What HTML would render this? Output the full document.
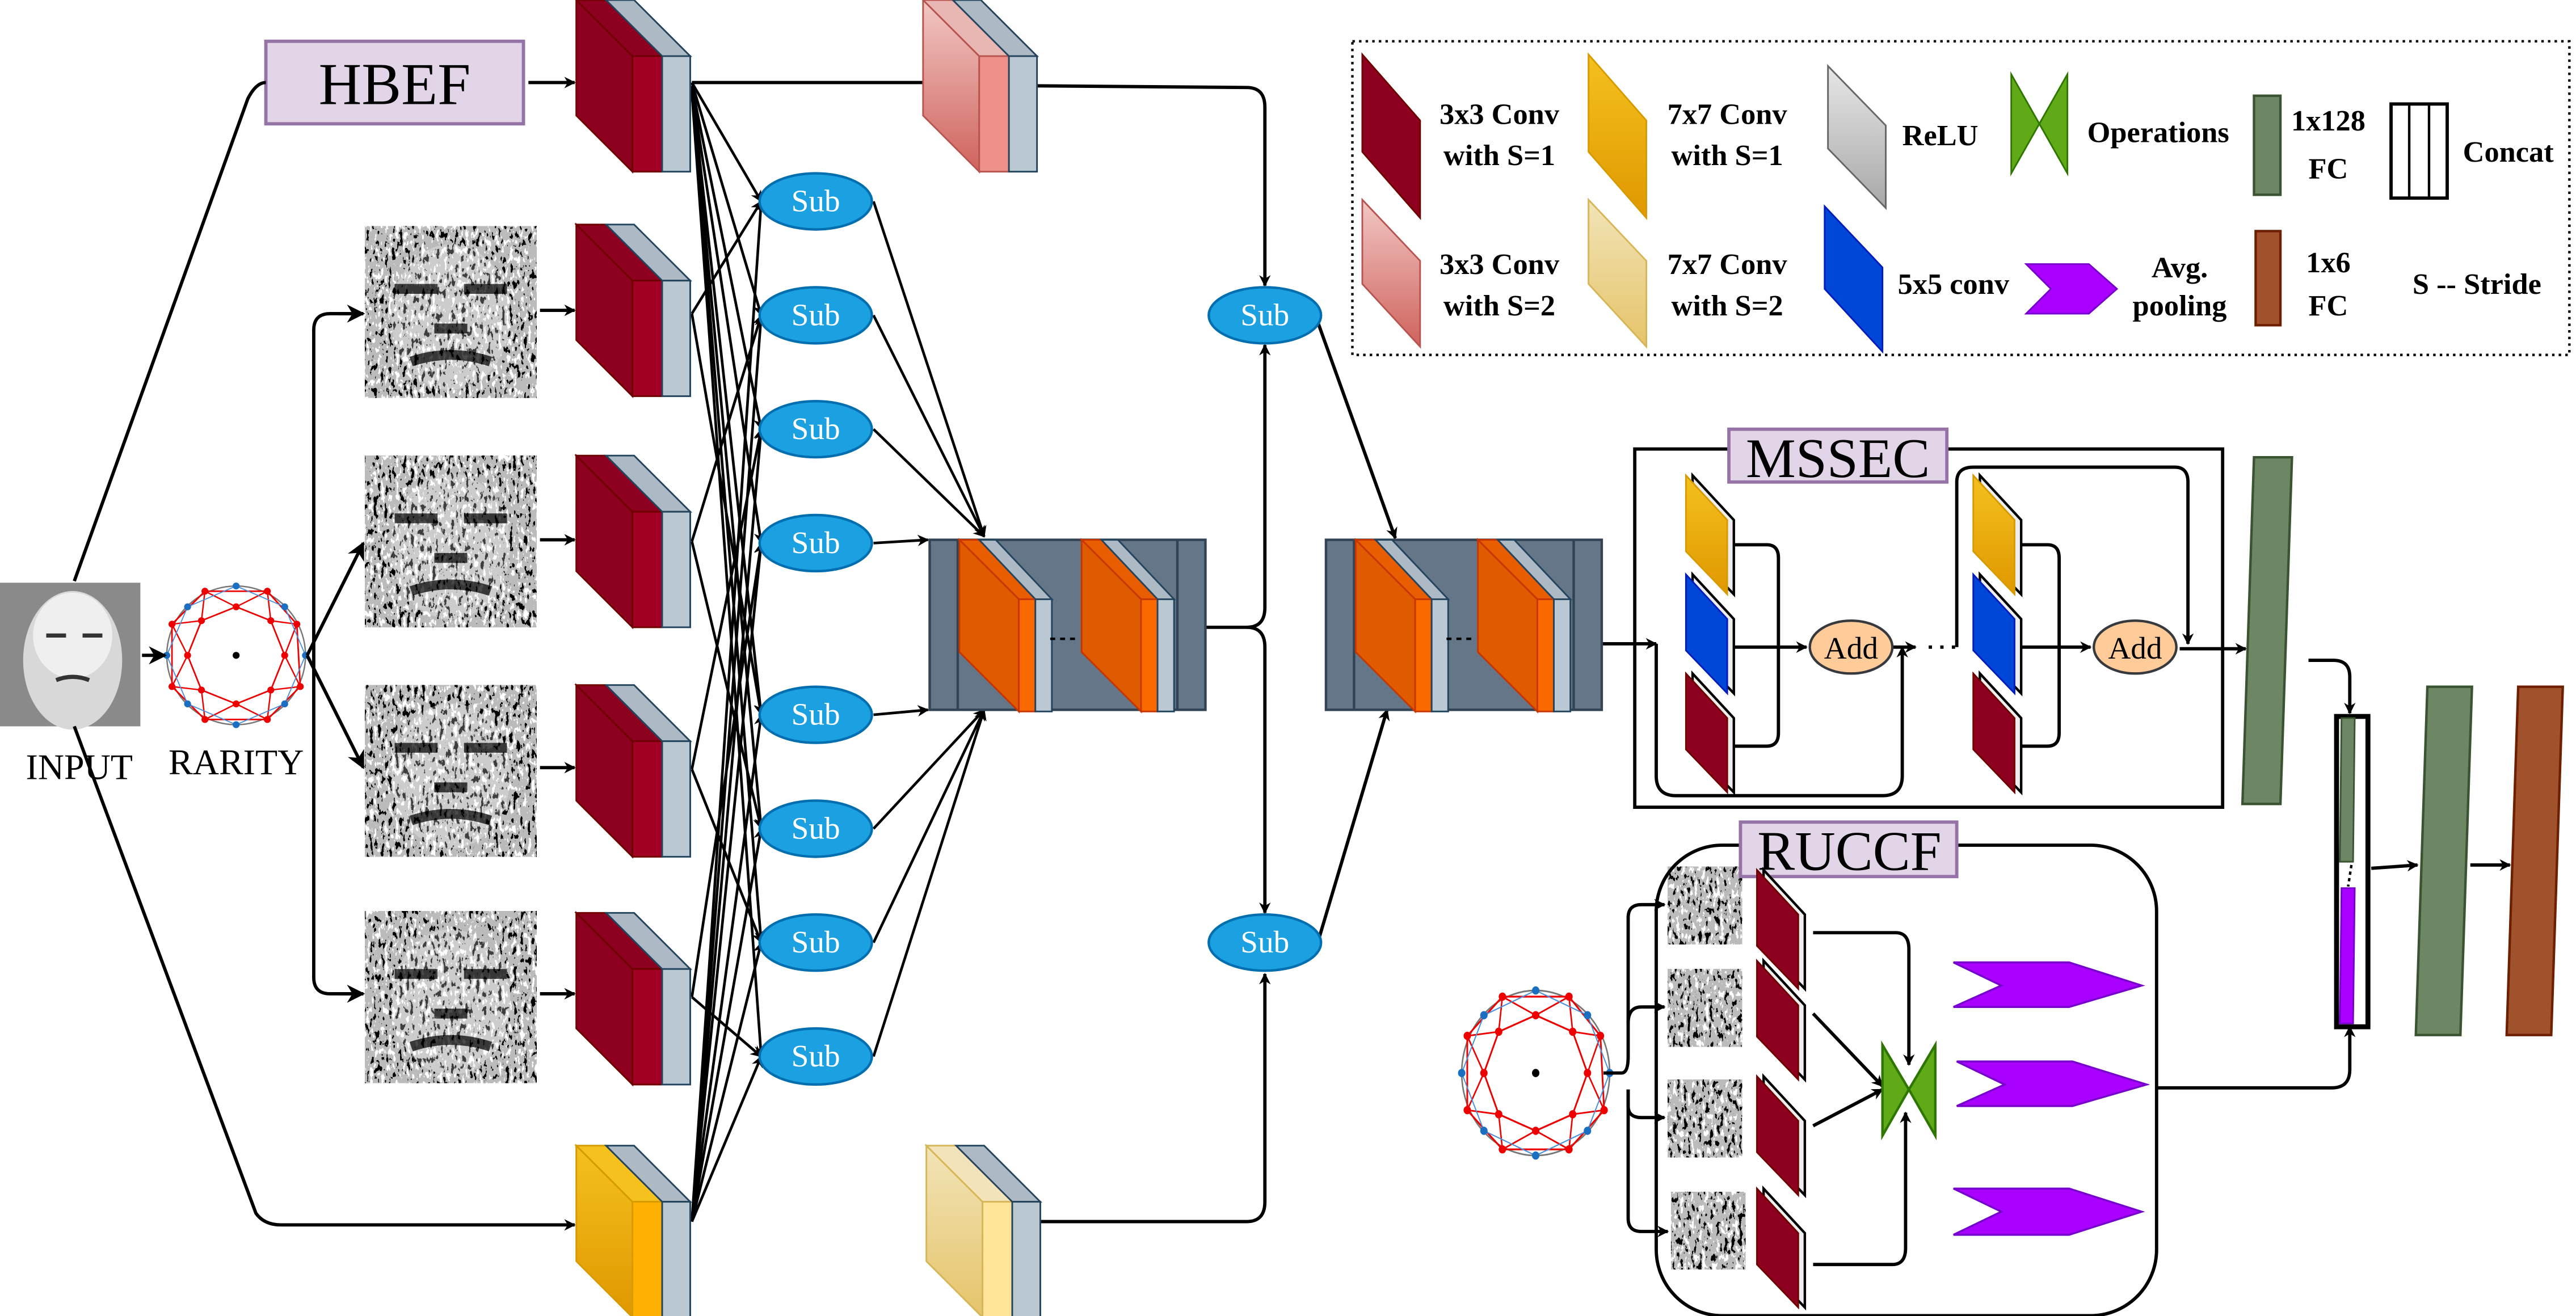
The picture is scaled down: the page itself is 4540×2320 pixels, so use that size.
<!DOCTYPE html>
<html><head><meta charset="utf-8"><style>
html,body{margin:0;padding:0;background:#fff;}
svg{display:block;}
text{font-family:"Liberation Serif",serif;}
</style></head><body>
<svg width="4540" height="2320" viewBox="0 0 1560 797.2" preserveAspectRatio="none" xmlns="http://www.w3.org/2000/svg" font-family="Liberation Serif, serif">
<defs>
<marker id="ar" viewBox="0 0 10 10" refX="9" refY="5" markerWidth="7" markerHeight="7" orient="auto-start-reverse" markerUnits="userSpaceOnUse"><path d="M0,0 L10,5 L0,10 L3,5 z" fill="#000"/></marker>
<marker id="ar2" viewBox="0 0 10 10" refX="9" refY="5" markerWidth="11" markerHeight="11" orient="auto" markerUnits="userSpaceOnUse"><path d="M0,0 L10,5 L0,10 L3,5 z" fill="#000"/></marker>
<filter id="nz" x="0" y="0" width="1" height="1" primitiveUnits="userSpaceOnUse">
<feTurbulence type="fractalNoise" baseFrequency="0.45 0.2" numOctaves="3" seed="5"/>
<feColorMatrix type="saturate" values="0"/>
<feComponentTransfer><feFuncR type="discrete" tableValues="0 0 0.5 1 1"/><feFuncG type="discrete" tableValues="0 0 0.5 1 1"/><feFuncB type="discrete" tableValues="0 0 0.5 1 1"/><feFuncA type="linear" slope="0" intercept="1"/></feComponentTransfer>
</filter>
<linearGradient id="pinkg" x1="0" y1="0" x2="0" y2="1"><stop offset="0" stop-color="#f1c7c4"/><stop offset="1" stop-color="#d0635d"/></linearGradient>
<linearGradient id="yelg" x1="0" y1="0" x2="0" y2="1"><stop offset="0" stop-color="#f4c11f"/><stop offset="1" stop-color="#e09800"/></linearGradient>
<linearGradient id="lyg" x1="0" y1="0" x2="0" y2="1"><stop offset="0" stop-color="#f2e4b8"/><stop offset="1" stop-color="#e5c46a"/></linearGradient>
<linearGradient id="grayg" x1="0" y1="0" x2="0" y2="1"><stop offset="0" stop-color="#e6e6e6"/><stop offset="1" stop-color="#a8a8a8"/></linearGradient>
<g id="redblk">
<polygon points="0,0 34,34 34,104 0,70" fill="#8e0020" stroke="#6f0000" stroke-width="1"/>
<polygon points="0,0 18,0 52,34 34,34" fill="#8e0020" stroke="#6f0000" stroke-width="1"/>
<rect x="34" y="34" width="18" height="70" fill="#a20025" stroke="#6f0000" stroke-width="1"/>
<polygon points="18,0 35,0 69,34 52,34" fill="#adb9c4" stroke="#23445d" stroke-width="1"/>
<rect x="52" y="34" width="17" height="70" fill="#bac8d3" stroke="#23445d" stroke-width="1"/>
</g>
<g id="pinkblk">
<polygon points="0,0 34,34 34,104 0,70" fill="url(#pinkg)" stroke="#b85450" stroke-width="1"/>
<polygon points="0,0 18,0 52,34 34,34" fill="#e8b7b4" stroke="#b85450" stroke-width="1"/>
<rect x="34" y="34" width="18" height="70" fill="#f0908a" stroke="#b85450" stroke-width="1"/>
<polygon points="18,0 35,0 69,34 52,34" fill="#adb9c4" stroke="#23445d" stroke-width="1"/>
<rect x="52" y="34" width="17" height="70" fill="#bac8d3" stroke="#23445d" stroke-width="1"/>
</g>
<g id="yelblk">
<polygon points="0,0 34,34 34,104 0,70" fill="url(#yelg)" stroke="#d79b00" stroke-width="1"/>
<polygon points="0,0 18,0 52,34 34,34" fill="#f4c11f" stroke="#d79b00" stroke-width="1"/>
<rect x="34" y="34" width="18" height="70" fill="#ffb000" stroke="#d79b00" stroke-width="1"/>
<polygon points="18,0 35,0 69,34 52,34" fill="#adb9c4" stroke="#23445d" stroke-width="1"/>
<rect x="52" y="34" width="17" height="70" fill="#bac8d3" stroke="#23445d" stroke-width="1"/>
</g>
<g id="lyblk">
<polygon points="0,0 34,34 34,104 0,70" fill="url(#lyg)" stroke="#d6b656" stroke-width="1"/>
<polygon points="0,0 18,0 52,34 34,34" fill="#f2e4b8" stroke="#d6b656" stroke-width="1"/>
<rect x="34" y="34" width="18" height="70" fill="#ffe599" stroke="#d6b656" stroke-width="1"/>
<polygon points="18,0 35,0 69,34 52,34" fill="#adb9c4" stroke="#23445d" stroke-width="1"/>
<rect x="52" y="34" width="17" height="70" fill="#bac8d3" stroke="#23445d" stroke-width="1"/>
</g>
<g id="orblk">
<polygon points="0,0 12,0 46,36 36,36" fill="#e85d00" stroke="#c73500" stroke-width="1"/>
<polygon points="12,0 22,0 56,36 46,36" fill="#adb9c4" stroke="#23445d" stroke-width="1"/>
<polygon points="0,0 36,36 36,104 0,68" fill="#e05a00" stroke="#c73500" stroke-width="1"/>
<rect x="36" y="36" width="10" height="68" fill="#fa6800" stroke="#c73500" stroke-width="1"/>
<rect x="46" y="36" width="10" height="68" fill="#bac8d3" stroke="#23445d" stroke-width="1"/>
</g>
<g id="para">
<polygon points="4,0 29,27 29,72 4,46" fill="#eee" stroke="#000" stroke-width="1.5"/>
<polygon points="0,0 25,27 25,72 0,46" stroke-width="1"/>
</g>
<g id="rar">
<ellipse cx="0" cy="0" rx="40" ry="40" fill="none" stroke="#777" stroke-width="0.8"/>
<polygon points="-18,-37 18,-37 35,-18 37,18 18,37 -18,37 -37,18 -37,-18" fill="none" stroke="#e00" stroke-width="0.9"/>
<polygon points="0,-28 20,-20 28,0 20,20 0,28 -20,20 -28,0 -20,-20" fill="none" stroke="#e00" stroke-width="0.9"/>
<polygon points="-18,-37 0,-28 18,-37 20,-20 35,-18 28,0 37,18 20,20 18,37 0,28 -18,37 -20,20 -37,18 -28,0 -37,-18 -20,-20" fill="none" stroke="#e00" stroke-width="0.8"/>
<polygon points="0,-40 28,-28 40,0 28,28 0,40 -28,28 -40,0 -28,-28" fill="none" stroke="#4a90d9" stroke-width="0.6"/>
<g fill="#e00"><circle cx="-18" cy="-37" r="2"/><circle cx="18" cy="-37" r="2"/><circle cx="35" cy="-18" r="2"/><circle cx="37" cy="18" r="2"/><circle cx="18" cy="37" r="2"/><circle cx="-18" cy="37" r="2"/><circle cx="-37" cy="18" r="2"/><circle cx="-37" cy="-18" r="2"/><circle cx="0" cy="-28" r="2"/><circle cx="20" cy="-20" r="2"/><circle cx="28" cy="0" r="2"/><circle cx="20" cy="20" r="2"/><circle cx="0" cy="28" r="2"/><circle cx="-20" cy="20" r="2"/><circle cx="-28" cy="0" r="2"/><circle cx="-20" cy="-20" r="2"/></g>
<g fill="#1a6fc2"><circle cx="0" cy="-40" r="2"/><circle cx="28" cy="-28" r="2"/><circle cx="40" cy="0" r="2"/><circle cx="28" cy="28" r="2"/><circle cx="0" cy="40" r="2"/><circle cx="-28" cy="28" r="2"/><circle cx="-40" cy="0" r="2"/><circle cx="-28" cy="-28" r="2"/></g>
<circle cx="0" cy="0" r="2" fill="#000"/>
</g>
<g id="face">
<ellipse cx="52" cy="55" rx="36" ry="44" fill="#fff" opacity="0.35"/>
<path d="M18,38 h26 M60,38 h26 M42,62 h20 M28,82 q24,-8 48,0" stroke="#000" stroke-width="6" fill="none"/>
</g>
</defs>

<!-- legend -->
<rect x="819" y="25" width="737" height="190" fill="none" stroke="#000" stroke-width="1.5" stroke-dasharray="1.5,2.5"/>
<polygon points="825,33 860,73 860,132 825,92" fill="#8e0020" stroke="#6f0000"/>
<polygon points="962,33 997,73 997,132 962,92" fill="url(#yelg)" stroke="#d79b00"/>
<polygon points="1107,40 1142,76 1142,126 1107,90" fill="url(#grayg)" stroke="#666"/>
<polygon points="825,121 860,158 860,210 825,172" fill="url(#pinkg)" stroke="#b85450"/>
<polygon points="962,121 997,158 997,210 962,172" fill="url(#lyg)" stroke="#d6b656"/>
<polygon points="1105,125 1140,162 1140,213 1105,175" fill="#0047d8" stroke="#001dbc"/>
<polygon points="1218,45 1235,75 1252,45 1252,105 1235,75 1218,105" fill="#60a917" stroke="#2d7600"/>
<rect x="1365" y="58" width="16" height="60" fill="#6d8764" stroke="#3a5431" stroke-width="1.5"/>
<rect x="1366" y="140" width="15" height="57" fill="#a0522d" stroke="#6d1f00" stroke-width="1.5"/>
<rect x="1448" y="63" width="34" height="57" fill="#fff" stroke="#000" stroke-width="2"/>
<line x1="1459" y1="63" x2="1459" y2="120" stroke="#000" stroke-width="1.5"/>
<line x1="1471" y1="63" x2="1471" y2="120" stroke="#000" stroke-width="1.5"/>
<polygon points="1227,160 1265,160 1282,175 1265,190 1227,190 1242,175" fill="#aa00ff" stroke="#7700cc"/>
<g font-weight="bold" font-size="18" text-anchor="middle" font-family="Liberation Serif, serif">
<text x="908" y="75">3x3 Conv</text><text x="908" y="100">with S=1</text>
<text x="1046" y="75">7x7 Conv</text><text x="1046" y="100">with S=1</text>
<text x="908" y="166">3x3 Conv</text><text x="908" y="191">with S=2</text>
<text x="1046" y="166">7x7 Conv</text><text x="1046" y="191">with S=2</text>
<text x="1175" y="88">ReLU</text>
<text x="1307" y="86">Operations</text>
<text x="1410" y="79">1x128</text><text x="1410" y="108">FC</text>
<text x="1519" y="98">Concat</text>
<text x="1183" y="178">5x5 conv</text>
<text x="1320" y="168">Avg.</text><text x="1320" y="191">pooling</text>
<text x="1410" y="165">1x6</text><text x="1410" y="191">FC</text>
<text x="1500" y="178">S -- Stride</text>
</g>

<!-- input -->
<rect x="0" y="353" width="85" height="87" fill="#8a8a8a"/>
<ellipse cx="44" cy="400" rx="30" ry="42" fill="#d8d8d8"/>
<ellipse cx="44" cy="385" rx="24" ry="26" fill="#efefef"/>
<path d="M28,385 h12 M50,385 h12 M34,412 q10,-4 20,0" stroke="#333" stroke-width="2.5" fill="none"/>
<text x="48" y="472" font-size="22" text-anchor="middle">INPUT</text>
<use href="#rar" transform="translate(143,397) scale(1.05)"/>
<text x="143" y="469" font-size="22" text-anchor="middle">RARITY</text>

<!-- HBEF -->
<rect x="161" y="25" width="156" height="50" fill="#e1d5e7" stroke="#9673a6" stroke-width="2"/>
<text x="239" y="63" font-size="36" text-anchor="middle">HBEF</text>

<g fill="none" stroke="#000" stroke-width="2">
<path d="M45,352 L150,60 Q155,50 161,50"/>
<path d="M320,50 H348" marker-end="url(#ar)"/>
<path d="M45,440 L155,735 Q160,742 170,742 H348" marker-end="url(#ar)"/>
<path d="M86,397 H100" marker-end="url(#ar2)"/>
<path d="M186,397 L220,329" marker-end="url(#ar2)"/>
<path d="M186,397 L220,465" marker-end="url(#ar2)"/>
<path d="M220,190 H200 Q190,190 190,200 V592 Q190,602 200,602 H220" />
<path d="M205,190 H220" marker-end="url(#ar2)"/>
<path d="M205,602 H220" marker-end="url(#ar2)"/>
<path d="M327,188 H348" marker-end="url(#ar)"/>
<path d="M327,327 H348" marker-end="url(#ar)"/>
<path d="M327,465 H348" marker-end="url(#ar)"/>
<path d="M327,602 H348" marker-end="url(#ar)"/>
</g>

<!-- texture images -->
<rect x="221" y="137" width="104" height="104" fill="#777" filter="url(#nz)"/>
<rect x="221" y="276" width="104" height="104" fill="#777" filter="url(#nz)"/>
<rect x="221" y="415" width="104" height="104" fill="#777" filter="url(#nz)"/>
<rect x="221" y="552" width="104" height="104" fill="#777" filter="url(#nz)"/>
<g opacity="0.7">
<use href="#face" x="221" y="137"/><use href="#face" x="221" y="276"/><use href="#face" x="221" y="415"/><use href="#face" x="221" y="552"/>
</g>
<rect x="1010" y="525" width="45" height="47" fill="#777" filter="url(#nz)"/>
<rect x="1010" y="587" width="45" height="47" fill="#777" filter="url(#nz)"/>
<rect x="1010" y="654" width="45" height="47" fill="#777" filter="url(#nz)"/>
<rect x="1012" y="722" width="45" height="47" fill="#777" filter="url(#nz)"/>

<!-- lines from blocks to subs -->
<g fill="none" stroke="#000" stroke-width="1.6">
<line x1="419" y1="50" x2="461" y2="122" marker-end="url(#ar)"/>
<line x1="419" y1="50" x2="461" y2="191" marker-end="url(#ar)"/>
<line x1="419" y1="52" x2="461" y2="260" marker-end="url(#ar)"/>
<line x1="419" y1="54" x2="461" y2="329" marker-end="url(#ar)"/>
<line x1="419" y1="54" x2="461" y2="433" marker-end="url(#ar)"/>
<line x1="419" y1="55" x2="461" y2="502" marker-end="url(#ar)"/>
<line x1="419" y1="56" x2="461" y2="571" marker-end="url(#ar)"/>
<line x1="419" y1="56" x2="461" y2="640" marker-end="url(#ar)"/>
<line x1="419" y1="740" x2="461" y2="122" marker-end="url(#ar)"/>
<line x1="419" y1="740" x2="461" y2="191" marker-end="url(#ar)"/>
<line x1="419" y1="740" x2="461" y2="260" marker-end="url(#ar)"/>
<line x1="419" y1="740" x2="461" y2="329" marker-end="url(#ar)"/>
<line x1="419" y1="740" x2="461" y2="433" marker-end="url(#ar)"/>
<line x1="419" y1="740" x2="461" y2="502" marker-end="url(#ar)"/>
<line x1="419" y1="740" x2="461" y2="571" marker-end="url(#ar)"/>
<line x1="419" y1="740" x2="461" y2="640" marker-end="url(#ar)"/>
<line x1="419" y1="190" x2="461" y2="122" marker-end="url(#ar)"/>
<line x1="419" y1="190" x2="461" y2="433" marker-end="url(#ar)"/>
<line x1="419" y1="328" x2="461" y2="191" marker-end="url(#ar)"/>
<line x1="419" y1="328" x2="461" y2="502" marker-end="url(#ar)"/>
<line x1="419" y1="466" x2="461" y2="260" marker-end="url(#ar)"/>
<line x1="419" y1="466" x2="461" y2="571" marker-end="url(#ar)"/>
<line x1="419" y1="604" x2="461" y2="329" marker-end="url(#ar)"/>
<line x1="419" y1="604" x2="461" y2="640" marker-end="url(#ar)"/>
<line x1="529" y1="122" x2="596" y2="325" marker-end="url(#ar)"/>
<line x1="529" y1="191" x2="596" y2="325" marker-end="url(#ar)"/>
<line x1="529" y1="260" x2="596" y2="325" marker-end="url(#ar)"/>
<line x1="529" y1="329" x2="562" y2="327" marker-end="url(#ar)"/>
<line x1="529" y1="433" x2="562" y2="430" marker-end="url(#ar)"/>
<line x1="529" y1="502" x2="596" y2="430" marker-end="url(#ar)"/>
<line x1="529" y1="571" x2="596" y2="430" marker-end="url(#ar)"/>
<line x1="529" y1="640" x2="596" y2="430" marker-end="url(#ar)"/>
</g>
<g fill="none" stroke="#000" stroke-width="2">
<path d="M419,50 H560"/>
<path d="M628,52 L755,53 Q766,53 766,65 V173" marker-end="url(#ar)"/>
<path d="M628,740 H755 Q766,740 766,728 V590" marker-end="url(#ar)"/>
<path d="M730,380 H755 Q766,380 766,368 V209" marker-end="url(#ar)"/>
<path d="M755,380 Q766,380 766,392 V553" marker-end="url(#ar)"/>
<path d="M798,195 L845,326" marker-end="url(#ar)"/>
<path d="M798,571 L840,430" marker-end="url(#ar)"/>
<path d="M970,390 H1003" marker-end="url(#ar)"/>
</g>

<!-- blocks -->
<use href="#redblk" x="349" y="0"/>
<use href="#redblk" x="349" y="136"/>
<use href="#redblk" x="349" y="276"/>
<use href="#redblk" x="349" y="415"/>
<use href="#redblk" x="349" y="553"/>
<use href="#yelblk" x="349" y="694"/>
<use href="#pinkblk" x="559" y="0"/>
<use href="#lyblk" x="561" y="694"/>

<!-- sub ellipses -->
<g fill="#1ba1e2" stroke="#006eaf" stroke-width="1.5">
<ellipse cx="494" cy="122" rx="34" ry="17"/><ellipse cx="494" cy="191" rx="34" ry="17"/>
<ellipse cx="494" cy="260" rx="34" ry="17"/><ellipse cx="494" cy="329" rx="34" ry="17"/>
<ellipse cx="494" cy="433" rx="34" ry="17"/><ellipse cx="494" cy="502" rx="34" ry="17"/>
<ellipse cx="494" cy="571" rx="34" ry="17"/><ellipse cx="494" cy="640" rx="34" ry="17"/>
<ellipse cx="766" cy="191" rx="34" ry="17"/><ellipse cx="766" cy="571" rx="34" ry="17"/>
</g>
<g fill="#fff" font-size="19" text-anchor="middle">
<text x="494" y="128">Sub</text><text x="494" y="197">Sub</text><text x="494" y="266">Sub</text><text x="494" y="335">Sub</text>
<text x="494" y="439">Sub</text><text x="494" y="508">Sub</text><text x="494" y="577">Sub</text><text x="494" y="646">Sub</text>
<text x="766" y="197">Sub</text><text x="766" y="577">Sub</text>
</g>

<!-- big boxes -->
<g>
<rect x="563" y="327" width="167" height="103" fill="#647687" stroke="#314354" stroke-width="1.5"/>
<line x1="580" y1="327" x2="580" y2="430" stroke="#314354" stroke-width="1.5"/>
<line x1="713" y1="327" x2="713" y2="430" stroke="#314354" stroke-width="1.5"/>
<use href="#orblk" x="581" y="327"/>
<use href="#orblk" x="655" y="327"/>
<line x1="636" y1="387" x2="652" y2="387" stroke="#000" stroke-width="1.5" stroke-dasharray="3,3"/>
</g>
<g transform="translate(240,0)">
<rect x="563" y="327" width="167" height="103" fill="#647687" stroke="#314354" stroke-width="1.5"/>
<line x1="580" y1="327" x2="580" y2="430" stroke="#314354" stroke-width="1.5"/>
<line x1="713" y1="327" x2="713" y2="430" stroke="#314354" stroke-width="1.5"/>
<use href="#orblk" x="581" y="327"/>
<use href="#orblk" x="655" y="327"/>
<line x1="636" y1="387" x2="652" y2="387" stroke="#000" stroke-width="1.5" stroke-dasharray="3,3"/>
</g>

<!-- MSSEC -->
<rect x="990" y="272" width="356" height="217" fill="none" stroke="#000" stroke-width="2"/>
<g fill="none" stroke="#000" stroke-width="2">
<path d="M1050,330 H1070 Q1077,330 1077,338 V444 Q1077,452 1070,452 H1050"/>
<path d="M1050,392 H1094" marker-end="url(#ar)"/>
<path d="M1003,390 V470 Q1003,482 1015,482 H1140 Q1152,482 1152,470 V392" marker-end="url(#ar)"/>
<path d="M1146,392 H1160" marker-end="url(#ar)"/>
<path d="M1168,392 H1185" stroke-dasharray="2,5"/>
<path d="M1220,330 H1240 Q1247,330 1247,338 V444 Q1247,452 1240,452 H1220"/>
<path d="M1220,392 H1266" marker-end="url(#ar)"/>
<path d="M1185,392 V292 Q1185,283 1195,283 H1317 Q1325,283 1325,292 V390" marker-end="url(#ar)"/>
<path d="M1320,393 H1360" marker-end="url(#ar)"/>
</g>
<use href="#para" x="1021" y="288" fill="url(#yelg)" stroke="#d79b00"/>
<use href="#para" x="1021" y="348" fill="#0047d8" stroke="#001dbc"/>
<use href="#para" x="1021" y="408" fill="#8e0020" stroke="#6f0000"/>
<use href="#para" x="1195" y="288" fill="url(#yelg)" stroke="#d79b00"/>
<use href="#para" x="1195" y="348" fill="#0047d8" stroke="#001dbc"/>
<use href="#para" x="1195" y="408" fill="#8e0020" stroke="#6f0000"/>
<ellipse cx="1121" cy="392" rx="25" ry="16" fill="#ffcc99" stroke="#36393d" stroke-width="1.5"/>
<ellipse cx="1293" cy="392" rx="25" ry="16" fill="#ffcc99" stroke="#36393d" stroke-width="1.5"/>
<text x="1121" y="399" font-size="19" text-anchor="middle">Add</text>
<text x="1293" y="399" font-size="19" text-anchor="middle">Add</text>
<rect x="1047" y="260" width="132" height="32" fill="#e1d5e7" stroke="#9673a6" stroke-width="2"/>
<text x="1113" y="289" font-size="34" text-anchor="middle">MSSEC</text>

<!-- RUCCF -->
<rect x="1003" y="512" width="303" height="285" rx="40" fill="none" stroke="#000" stroke-width="2"/>
<rect x="1054" y="498" width="131" height="33" fill="#e1d5e7" stroke="#9673a6" stroke-width="2"/>
<text x="1120" y="527" font-size="34" text-anchor="middle">RUCCF</text>
<use href="#rar" transform="translate(930,650) scale(1.12,1.25)"/>
<g fill="none" stroke="#000" stroke-width="2">
<path d="M971,650 H982 Q986,650 986,640 V556 Q986,548 994,548 H1008" marker-end="url(#ar)"/>
<path d="M986,620 Q986,610 994,610 H1008" marker-end="url(#ar)"/>
<path d="M986,660 V670 Q986,677 994,677 H1008" marker-end="url(#ar)"/>
<path d="M986,660 V738 Q986,746 994,746 H1010" marker-end="url(#ar)"/>
<path d="M1098,565 H1148 Q1156,565 1156,575 V645" marker-end="url(#ar)"/>
<path d="M1098,614 L1140,658" marker-end="url(#ar)"/>
<path d="M1098,682 L1140,660" marker-end="url(#ar)"/>
<path d="M1098,766 H1146 Q1154,766 1154,756 V674" marker-end="url(#ar)"/>
<path d="M1306,659 H1412 Q1423,659 1423,648 V622" marker-end="url(#ar)"/>
<path d="M1398,400 H1413 Q1423,400 1423,410 V432" marker-end="url(#ar)"/>
<path d="M1436,526 L1464,524" marker-end="url(#ar)"/>
<path d="M1496,524 L1520,524" marker-end="url(#ar)"/>
</g>
<use href="#para" x="1064" y="527" fill="#8e0020" stroke="#6f0000"/>
<use href="#para" x="1064" y="582" fill="#8e0020" stroke="#6f0000"/>
<use href="#para" x="1064" y="652" fill="#8e0020" stroke="#6f0000"/>
<use href="#para" x="1064" y="720" fill="#8e0020" stroke="#6f0000"/>
<polygon points="1140,633 1156,660 1172,633 1172,688 1156,660 1140,688" fill="#60a917" stroke="#2d7600" stroke-width="1.5"/>
<g fill="#aa00ff" stroke="#7700cc" stroke-width="1.2">
<polygon points="1183,583 1253,583 1297,597 1253,610 1183,610 1212,597"/>
<polygon points="1185,643 1255,643 1300,657 1255,670 1185,670 1214,657"/>
<polygon points="1183,720 1253,720 1297,734 1253,748 1183,748 1212,734"/>
</g>

<!-- FC bars -->
<polygon points="1365,277 1388,277 1381,487 1358,487" fill="#6d8764" stroke="#3a5431" stroke-width="1.5"/>
<polygon points="1470,416 1497,416 1490,627 1463,627" fill="#6d8764" stroke="#3a5431" stroke-width="1.5"/>
<polygon points="1525,416 1552,416 1545,627 1518,627" fill="#a0522d" stroke="#6d1f00" stroke-width="1.5"/>
<rect x="1415" y="434" width="19" height="188" fill="#fff" stroke="#000" stroke-width="3"/>
<polygon points="1418,435 1426,435 1425,522 1417,522" fill="#6d8764" stroke="#3a5431"/>
<polygon points="1418,538 1426,538 1425,620 1417,620" fill="#aa00ff" stroke="#7700cc"/>
<line x1="1424" y1="524" x2="1422" y2="537" stroke="#000" stroke-width="1.5" stroke-dasharray="2,2"/>
</svg>
</body></html>
